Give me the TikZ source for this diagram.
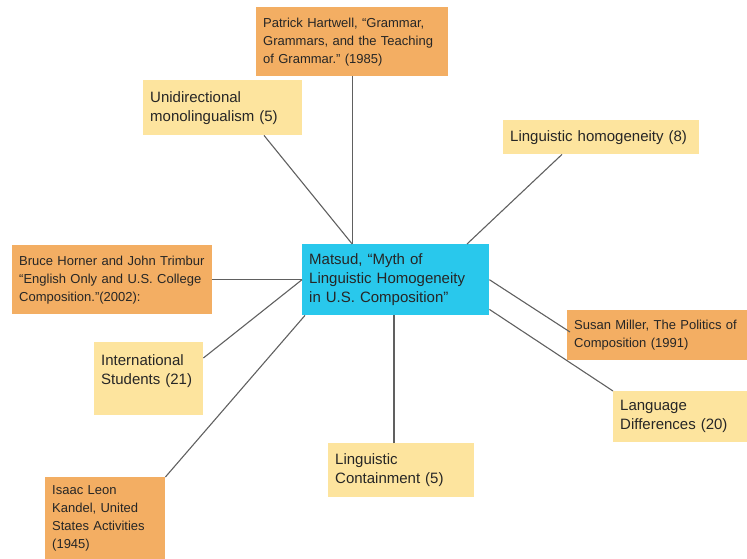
\documentclass[tikz,border=0pt]{standalone}
\usepackage{fontspec}
\setmainfont{Liberation Sans}
\frenchspacing
\usetikzlibrary{positioning,calc}
\definecolor{MapCyan}{HTML}{29C8EC}
\definecolor{MapOrange}{HTML}{F3AE63}
\definecolor{MapYellow}{HTML}{FDE49E}
\definecolor{MapGrey}{HTML}{606060}

\begin{document}
\begin{tikzpicture}[
  x=1pt, y=-1pt,
  card/.style={anchor=north west, inner xsep=7pt, inner ysep=0pt, align=left, text=black!85},
  topic/.style={card, fill=MapCyan, font=\fontsize{15}{19}\selectfont},
  idea/.style={card, fill=MapYellow, font=\fontsize{15}{19}\selectfont},
  source/.style={card, fill=MapOrange, font=\fontsize{13}{18}\selectfont},
  link/.style={draw=MapGrey, line width=1.1pt},
]
\useasboundingbox (0,0) rectangle (747,559);
% boxes
\node[topic, text width=173pt, minimum height=71pt] (matsud) at (302,244) {Matsud, “Myth of\\Linguistic Homogeneity\\in U.S. Composition”};
\node[source, text width=178pt, minimum height=69pt] (hartwell) at (256,7) {Patrick Hartwell, “Grammar,\\Grammars, and the Teaching\\of Grammar.” (1985)};
\node[idea, text width=145pt, minimum height=55pt] (unidir) at (143,80) {Unidirectional\\monolingualism (5)};
\node[idea, text width=182pt, minimum height=34pt] (homog) at (503,120) {Linguistic homogeneity (8)};
\node[source, text width=186pt, minimum height=69pt] (horner) at (12,245) {Bruce Horner and John Trimbur\\“English Only and U.S. College\\Composition.”(2002):};
\node[source, text width=166pt, minimum height=50pt] (miller) at (567,310) {Susan Miller, The Politics of\\Composition (1991)};
\node[idea, text width=95pt, minimum height=73pt, text depth=38pt] (intl) at (94,342) {International\\Students (21)};
\node[idea, text width=120pt, minimum height=51pt] (langdiff) at (613,391) {Language\\Differences (20)};
\node[idea, text width=132pt, minimum height=54pt] (contain) at (328,443) {Linguistic\\Containment (5)};
\node[source, text width=106pt, minimum height=82pt] (kandel) at (45,477) {Isaac Leon\\Kandel, United\\States Activities\\(1945)};
% connectors
\coordinate (containtop) at ($(contain.north west)+(66,0)$);
\draw[link] (hartwell.south) -- (hartwell.south |- matsud.north);
\draw[link] ($(unidir.south west)+(121,0)$) -- (hartwell.south |- matsud.north);
\draw[link] ($(homog.south west)+(59,0)$) -- ($(matsud.north west)+(165,0)$);
\draw[link] (horner.east) -- (horner.east -| matsud.west);
\draw[link] ($(intl.north east)+(0,16)$) -- (matsud.west);
\draw[link] (kandel.north east) -- ($(matsud.south west)+(3,0)$);
\draw[link] (containtop) -- (containtop |- matsud.south);
\draw[link] (matsud.east) -- ($(miller.north west)+(3,22)$);
\draw[link] ($(matsud.south east)+(0,-6)$) -- (langdiff.north west);
\end{tikzpicture}
\end{document}
